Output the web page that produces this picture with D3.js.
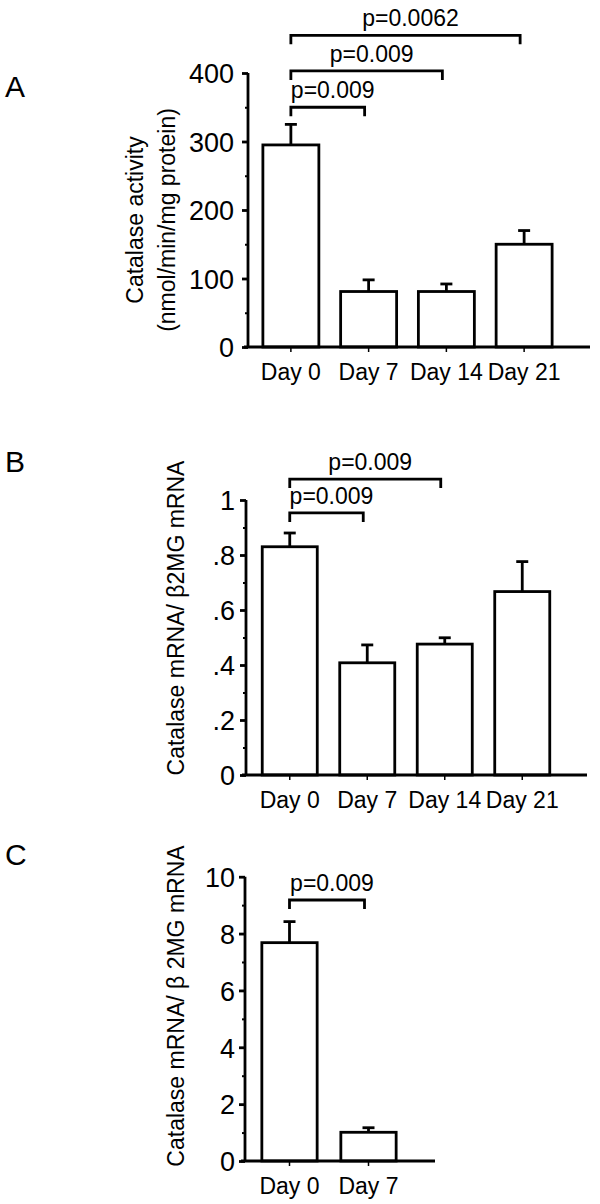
<!DOCTYPE html>
<html><head><meta charset="utf-8">
<script src="https://cdn.jsdelivr.net/npm/d3@7"></script>
<style>
body{margin:0;background:#fff}
svg{display:block}
text{font-family:"Liberation Sans",Arial,Helvetica,sans-serif;fill:#000}
</style>
</head><body>
<svg id="chart" width="600" height="1204"></svg>
<script>
// ---------- data ----------
const daysFour = ["Day 0", "Day 7", "Day 14", "Day 21"];
const daysTwo = ["Day 0", "Day 7"];

// Panel A: catalase activity (nmol/min/mg protein)
const activityMean = [295, 81, 81, 150];
const activityErr = [30, 17, 11, 20];
const activityTicks = [0, 100, 200, 300, 400];
const activityTickLabels = ["0", "100", "200", "300", "400"];
const activityMinor = [50, 150, 250, 350];
const activityBrFrom = ["Day 0", "Day 0", "Day 0"];
const activityBrTo = ["Day 7", "Day 14", "Day 21"];
const activityBrLabel = ["p=0.009", "p=0.009", "p=0.0062"];
const activityBrLevel = [350, 403, 455];

// Panel B: catalase mRNA / β2MG mRNA
const mrnaBMean = [0.83, 0.408, 0.476, 0.667];
const mrnaBErr = [0.05, 0.065, 0.023, 0.109];
const mrnaBTicks = [0, 0.2, 0.4, 0.6, 0.8, 1];
const mrnaBTickLabels = ["0", ".2", ".4", ".6", ".8", "1"];
const mrnaBMinor = [0.1, 0.3, 0.5, 0.7, 0.9];
const mrnaBBrFrom = ["Day 0", "Day 0"];
const mrnaBBrTo = ["Day 7", "Day 14"];
const mrnaBBrLabel = ["p=0.009", "p=0.009"];
const mrnaBBrLevel = [0.953, 1.076];

// Panel C: catalase mRNA / β 2MG mRNA
const mrnaCMean = [7.68, 1.01];
const mrnaCErr = [0.74, 0.16];
const mrnaCTicks = [0, 2, 4, 6, 8, 10];
const mrnaCTickLabels = ["0", "2", "4", "6", "8", "10"];
const mrnaCMinor = [1, 3, 5, 7, 9];
const mrnaCBrFrom = ["Day 0"];
const mrnaCBrTo = ["Day 7"];
const mrnaCBrLabel = ["p=0.009"];
const mrnaCBrLevel = [9.18];

// ---------- drawing ----------
const svg = d3.select("#chart");
const SW = 2.8;

function drawPanel(p) {
  const g = svg.append("g");
  const x = d3.scaleBand().domain(p.cats).range(p.xRange)
    .paddingInner(p.padIn).paddingOuter(p.padIn / 2);
  const y = d3.scaleLinear().domain([0, p.max]).range(p.yRange);
  const cx = c => x(c) + x.bandwidth() / 2;
  const y0 = y(0);

  // bars
  g.selectAll("rect.bar").data(p.values).join("rect").attr("class", "bar")
    .attr("x", (d, i) => x(p.cats[i]))
    .attr("y", d => y(d))
    .attr("width", x.bandwidth())
    .attr("height", d => y0 - y(d))
    .attr("fill", "#fff").attr("stroke", "#000").attr("stroke-width", SW);

  // error bars
  const eb = g.selectAll("g.err").data(p.values).join("g").attr("class", "err");
  eb.append("line")
    .attr("x1", (d, i) => cx(p.cats[i])).attr("x2", (d, i) => cx(p.cats[i]))
    .attr("y1", d => y(d)).attr("y2", (d, i) => y(d + p.errs[i]))
    .attr("stroke", "#000").attr("stroke-width", SW);
  eb.append("line")
    .attr("x1", (d, i) => cx(p.cats[i]) - 6).attr("x2", (d, i) => cx(p.cats[i]) + 6)
    .attr("y1", (d, i) => y(d + p.errs[i])).attr("y2", (d, i) => y(d + p.errs[i]))
    .attr("stroke", "#000").attr("stroke-width", SW);

  // y axis (major)
  const ya = g.append("g").attr("transform", `translate(${p.axisX},0)`)
    .call(d3.axisLeft(y).tickValues(p.ticks).tickFormat((d, i) => p.tickLabels[i])
      .tickSize(6).tickSizeOuter(0).tickPadding(p.tickPad));
  ya.attr("font-family", null).attr("font-size", null);
  ya.select(".domain").attr("stroke-width", SW).attr("d", `M0,${y0}V${y(p.max)}`);
  ya.selectAll(".tick line").attr("stroke-width", SW);
  ya.selectAll(".tick text").attr("font-size", 27).attr("dy", "0.36em");
  // y axis (minor)
  const ym = g.append("g").attr("transform", `translate(${p.axisX},0)`)
    .call(d3.axisLeft(y).tickValues(p.minor).tickFormat("").tickSize(3));
  ym.select(".domain").remove();
  ym.selectAll(".tick line").attr("stroke-width", 2);

  // x axis
  const xa = g.append("g").attr("transform", `translate(0,${y0})`)
    .call(d3.axisBottom(x).tickSize(5).tickSizeOuter(0));
  xa.attr("font-family", null).attr("font-size", null);
  xa.select(".domain").attr("stroke-width", SW).attr("d", `M${p.axisX - 4},0H${p.xAxisEnd}`);
  xa.selectAll(".tick line").attr("stroke-width", 1.5);
  xa.selectAll(".tick text").attr("font-size", 23).attr("y", 33).attr("dy", 0);

  // significance brackets
  p.brFrom.forEach((f, i) => {
    const x1 = cx(f), x2 = cx(p.brTo[i]) - 4, yb = y(p.brLevel[i]);
    g.append("path")
      .attr("d", `M${x1},${yb + 9}V${yb}H${x2}V${yb + 9}`)
      .attr("fill", "none").attr("stroke", "#000").attr("stroke-width", SW);
    g.append("text").attr("x", (x1 + x2) / 2 + 5).attr("y", yb - 9)
      .attr("text-anchor", "middle").attr("font-size", 23).text(p.brLabel[i]);
  });

  // y title
  p.title.forEach((t, i) => {
    g.append("text")
      .attr("transform", `translate(${p.titleX[i]},${p.titleY}) rotate(-90)`)
      .attr("text-anchor", "middle").attr("font-size", 23).text(t);
  });

  // panel letter
  g.append("text").attr("x", 5).attr("y", p.letterY).attr("font-size", 30).text(p.letter);
}

drawPanel({
  cats: daysFour, values: activityMean, errs: activityErr, max: 400,
  ticks: activityTicks, tickLabels: activityTickLabels, minor: activityMinor,
  brFrom: activityBrFrom, brTo: activityBrTo, brLabel: activityBrLabel, brLevel: activityBrLevel,
  xRange: [252, 563], padIn: 0.28, yRange: [347, 73], axisX: 248, xAxisEnd: 590, tickPad: 8,
  title: ["Catalase activity", "(nmol/min/mg protein)"], titleX: [143, 175], titleY: 220,
  letter: "A", letterY: 97
});

drawPanel({
  cats: daysFour, values: mrnaBMean, errs: mrnaBErr, max: 1,
  ticks: mrnaBTicks, tickLabels: mrnaBTickLabels, minor: mrnaBMinor,
  brFrom: mrnaBBrFrom, brTo: mrnaBBrTo, brLabel: mrnaBBrLabel, brLevel: mrnaBBrLevel,
  xRange: [251, 561], padIn: 0.29, yRange: [775, 500], axisX: 246, xAxisEnd: 587, tickPad: 5,
  title: ["Catalase mRNA/ \u03B22MG mRNA"], titleX: [184], titleY: 618,
  letter: "B", letterY: 472
});

drawPanel({
  cats: daysTwo, values: mrnaCMean, errs: mrnaCErr, max: 10,
  ticks: mrnaCTicks, tickLabels: mrnaCTickLabels, minor: mrnaCMinor,
  brFrom: mrnaCBrFrom, brTo: mrnaCBrTo, brLabel: mrnaCBrLabel, brLevel: mrnaCBrLevel,
  xRange: [250, 408], padIn: 0.30, yRange: [1161, 876.7], axisX: 245, xAxisEnd: 435, tickPad: 4,
  title: ["Catalase mRNA/ \u03B2 2MG mRNA"], titleX: [184], titleY: 1006,
  letter: "C", letterY: 865
});
</script>
</body></html>
